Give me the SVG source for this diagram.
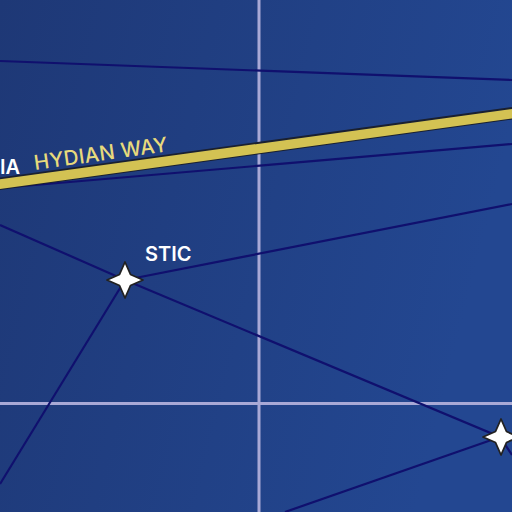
<svg xmlns="http://www.w3.org/2000/svg" width="512" height="512" viewBox="0 0 512 512">
<style>
.grid{stroke:#a9a9d6;stroke-width:3;fill:none}
.link{stroke:#10106e;stroke-width:2.200;fill:none}
.star{fill:#fff;stroke:#222;stroke-width:1.800;stroke-linejoin:round}
text{font-family:"Inter","Liberation Sans",sans-serif}
.w{fill:#fff;font-size:20px;font-weight:600}
.y{fill:#e8da7c;font-size:20.500px;font-weight:500;letter-spacing:.3px}
</style>
<defs>
<linearGradient id="bg" x1="0" y1="0" x2="1" y2="0.25"><stop offset="0" stop-color="#1e3876"/><stop offset="1" stop-color="#234791"/></linearGradient>
<path id="s" d="M0-18L5.500-5.500L18 0L5.500 5.500L0 18L-5.500 5.500L-18 0L-5.500-5.500Z"/>
</defs>
<rect width="512" height="512" fill="url(#bg)"/>
<g id="grid"><path class="grid" d="M259 0V512M0 403.500H512"/></g>
<g id="connectors">
<path class="link" d="M0 61L512 80"/>
<path class="link" d="M0 188L512 144"/>
<path class="link" d="M0 225L125 280L500 437L512 455"/>
<path class="link" d="M125 280L512 204"/>
<path class="link" d="M125 280L0 484"/>
<path class="link" d="M285 512L500 437"/>
</g>
<g id="hydian-way">
<path d="M-2 184L514 113" stroke="#1a2030" stroke-width="12.500" fill="none"/>
<path d="M-2 184.400L514 113.400" stroke="#d3c253" stroke-width="9.500" fill="none"/>
<text class="y" transform="translate(35 170) rotate(-8)">HYDIAN WAY</text>
</g>
<g id="node-ia"><text class="w" x="0" y="174">IA</text></g>
<g id="node-stic"><use href="#s" x="125" y="280" class="star"/><text class="w" x="145" y="261">STIC</text></g>
<g id="node-se"><use href="#s" x="501" y="437" class="star"/></g>
</svg>
